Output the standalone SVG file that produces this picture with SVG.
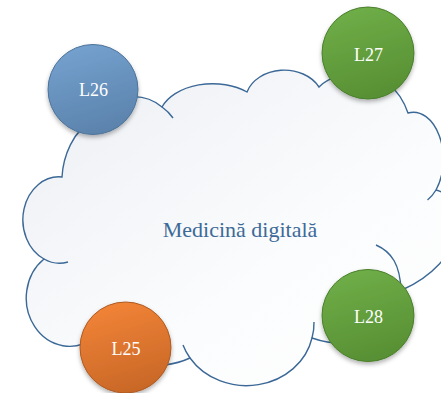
<svg xmlns="http://www.w3.org/2000/svg" width="441" height="393" viewBox="0 0 441 393">
<defs>
<linearGradient id="gCloud" x1="0" y1="0" x2="1" y2="1">
<stop offset="0" stop-color="#eceff4"/>
<stop offset="0.6" stop-color="#fbfcfd"/>
<stop offset="1" stop-color="#ffffff"/>
</linearGradient>
<linearGradient id="gBlue" x1="0.3" y1="0" x2="0.6" y2="1">
<stop offset="0" stop-color="#75a1cf"/>
<stop offset="1" stop-color="#5a82ab"/>
</linearGradient>
<linearGradient id="gGreen" x1="0.3" y1="0" x2="0.6" y2="1">
<stop offset="0" stop-color="#6fae48"/>
<stop offset="1" stop-color="#578f33"/>
</linearGradient>
<linearGradient id="gOrange" x1="0.3" y1="0" x2="0.6" y2="1">
<stop offset="0" stop-color="#f28437"/>
<stop offset="1" stop-color="#c86727"/>
</linearGradient>
<filter id="sh" x="-20%" y="-20%" width="140%" height="150%">
<feDropShadow dx="0" dy="2.5" stdDeviation="2" flood-color="#000" flood-opacity="0.3"/>
</filter>
<style>
.cl{fill:url(#gCloud);stroke:#3b6896;stroke-width:1.4}
.tl{fill:none;stroke:#3b6896;stroke-width:1.4}
.lbl{font-family:"Liberation Serif","Times New Roman",serif;font-size:18px;fill:#ffffff;text-anchor:middle}
.main{font-family:"Liberation Serif","Times New Roman",serif;font-size:22px;fill:#3d6a98;text-anchor:middle}
.b{fill:url(#gBlue);stroke:#4d7399;stroke-width:1}
.g{fill:url(#gGreen);stroke:#4a7f2c;stroke-width:1}
.o{fill:url(#gOrange);stroke:#ad5a22;stroke-width:1}
</style>
</defs>
<g id="cloud">
<path class="cl" d="M96 118 A44 44 0 0 1 162 107 A54 36 0 0 1 247 92 A39 31 0 0 1 319 87 C335 70 390 60 408 113 A30 47 0 0 1 436 190 C475 200 465 262 402 290 C410 330 360 355 312 338 A67 60 0 0 1 190 358 C160 372 110 368 95 337 A43 48 0 0 1 44 259 A36 43 0 0 1 62 177 C63 158 72 130 96 118 Z"/>
<path class="tl" d="M162 107 A44 44 0 0 1 173 118 M312 338 A67 60 0 0 0 314 322 M190 358 A67 60 0 0 1 183 345 M436 190 A30 47 0 0 1 427.5 200 M44 259 A36 43 0 0 0 68 262 M376 245 C392 252 400 265 401 290"/>
<text class="main" x="240" y="237">Medicină digitală</text>
</g>
<g id="connectors"></g>
<g id="L26">
<circle class="b" cx="93" cy="89.5" r="45" filter="url(#sh)"/>
<text class="lbl" x="93.5" y="96">L26</text>
</g>
<g id="L27">
<circle class="g" cx="368" cy="53" r="46" filter="url(#sh)"/>
<text class="lbl" x="368.5" y="61">L27</text>
</g>
<g id="L28">
<circle class="g" cx="368" cy="315.5" r="46" filter="url(#sh)"/>
<text class="lbl" x="368.5" y="323">L28</text>
</g>
<g id="L25">
<circle class="o" cx="125.5" cy="347.5" r="45.5" filter="url(#sh)"/>
<text class="lbl" x="126" y="355">L25</text>
</g>
</svg>
